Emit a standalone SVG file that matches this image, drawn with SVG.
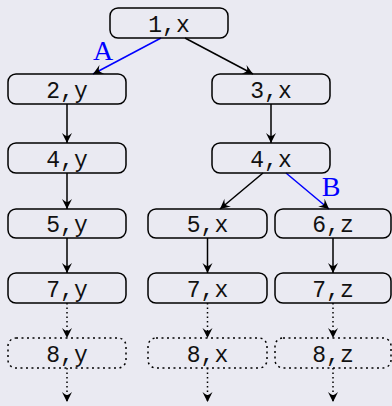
<svg xmlns="http://www.w3.org/2000/svg" width="392" height="406" viewBox="0 0 392 406">
<style>
.bg{fill:#eaeaf2}
.n rect{fill:none;stroke:#000;stroke-width:1.5}
.d rect{fill:none;stroke:#000;stroke-width:1.5;stroke-dasharray:2 3.5}
.n text,.d text{font-family:"Liberation Mono","DejaVu Sans Mono",monospace;font-size:23px;text-anchor:middle;fill:#111}
.e{stroke:#000;stroke-width:1.5;fill:none;marker-end:url(#ah)}
.b{stroke:#0000ff;stroke-width:1.5;fill:none;marker-end:url(#ah)}
.dt{stroke:#000;stroke-width:1.5;fill:none;stroke-dasharray:1.5 3;marker-end:url(#ah)}
.lab{font-family:"Liberation Serif","DejaVu Serif",serif;font-size:28px;fill:#0000ff;text-anchor:middle}
</style>
<defs>
<marker id="ah" viewBox="-11 -6 12 12" refX="0" refY="0" markerWidth="12" markerHeight="12" markerUnits="userSpaceOnUse" orient="auto">
<path d="M0,0 L-10,-5 Q-6.5,-1 -7,0 Q-6.5,1 -10,5 Z" fill="#000"/>
</marker>
</defs>
<rect class="bg" x="0" y="0" width="392" height="406"/>
<g id="edges">
<line class="b" x1="161" y1="38" x2="93" y2="74"/>
<line class="e" x1="185" y1="38" x2="253" y2="74"/>
<line class="e" x1="67" y1="104" x2="67" y2="143"/>
<line class="e" x1="271" y1="104" x2="271" y2="143"/>
<line class="e" x1="67" y1="173" x2="67" y2="209"/>
<line class="e" x1="263" y1="173" x2="220" y2="209"/>
<line class="b" x1="286" y1="173" x2="329" y2="209"/>
<line class="e" x1="67" y1="238" x2="67" y2="273"/>
<line class="e" x1="207.5" y1="238" x2="207.5" y2="273"/>
<line class="e" x1="333" y1="238" x2="333" y2="273"/>
<line class="dt" x1="67" y1="303" x2="67" y2="338"/>
<line class="dt" x1="207.5" y1="303" x2="207.5" y2="338"/>
<line class="dt" x1="333" y1="303" x2="333" y2="338"/>
<line class="dt" x1="67" y1="368" x2="67" y2="402"/>
<line class="dt" x1="207.5" y1="368" x2="207.5" y2="402"/>
<line class="dt" x1="333" y1="368" x2="333" y2="402"/>
<text class="lab" x="103" y="60">A</text>
<text class="lab" x="331" y="196">B</text>
</g>
<g id="n1x" class="n"><rect x="110" y="8" width="118" height="30" rx="8"/><text x="169" y="32">1,x</text></g>
<g id="n2y" class="n"><rect x="8" y="74" width="118" height="30" rx="8"/><text x="67" y="98">2,y</text></g>
<g id="n3x" class="n"><rect x="212" y="74" width="118" height="30" rx="8"/><text x="271" y="98">3,x</text></g>
<g id="n4y" class="n"><rect x="8" y="143" width="118" height="30" rx="8"/><text x="67" y="167">4,y</text></g>
<g id="n4x" class="n"><rect x="212" y="143" width="118" height="30" rx="8"/><text x="271" y="167">4,x</text></g>
<g id="n5y" class="n"><rect x="8" y="209" width="118" height="29" rx="8"/><text x="67" y="232">5,y</text></g>
<g id="n5x" class="n"><rect x="148" y="209" width="119" height="29" rx="8"/><text x="207.5" y="232">5,x</text></g>
<g id="n6z" class="n"><rect x="275" y="209" width="116" height="29" rx="8"/><text x="333" y="232">6,z</text></g>
<g id="n7y" class="n"><rect x="8" y="273" width="118" height="30" rx="8"/><text x="67" y="297">7,y</text></g>
<g id="n7x" class="n"><rect x="148" y="273" width="119" height="30" rx="8"/><text x="207.5" y="297">7,x</text></g>
<g id="n7z" class="n"><rect x="275" y="273" width="116" height="30" rx="8"/><text x="333" y="297">7,z</text></g>
<g id="n8y" class="d"><rect x="8" y="338" width="118" height="30" rx="8"/><text x="67" y="362">8,y</text></g>
<g id="n8x" class="d"><rect x="148" y="338" width="119" height="30" rx="8"/><text x="207.5" y="362">8,x</text></g>
<g id="n8z" class="d"><rect x="275" y="338" width="116" height="30" rx="8"/><text x="333" y="362">8,z</text></g>
</svg>
